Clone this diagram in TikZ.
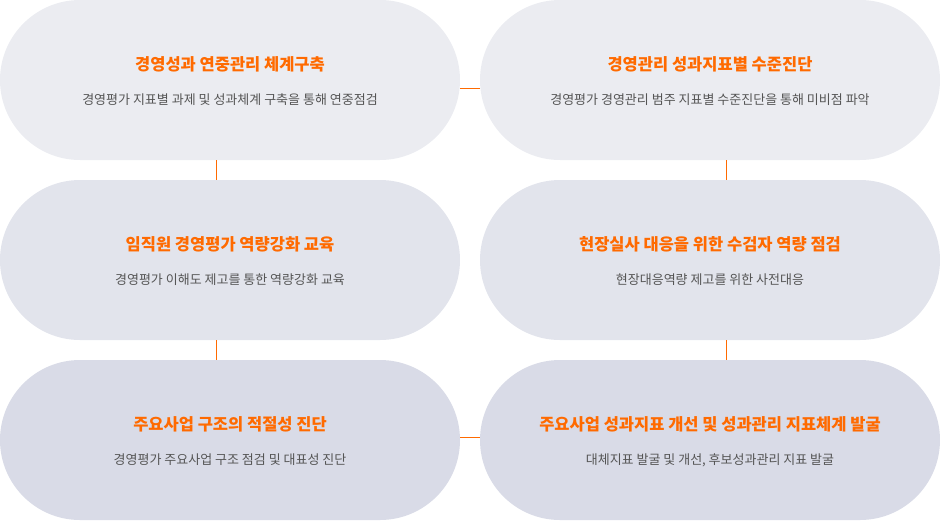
\documentclass[tikz,border=0pt]{standalone}
\usepackage{fontspec}
\newfontfamily\kr{Noto Sans CJK KR}
\definecolor{rowA}{HTML}{EBECF1}
\definecolor{rowB}{HTML}{E2E4EC}
\definecolor{rowC}{HTML}{D9DBE7}
\definecolor{orangeT}{HTML}{FF6A00}
\definecolor{grayT}{HTML}{555555}
\tikzset{
  pill/.style={rectangle, rounded corners=80pt, minimum width=460pt, minimum height=160pt, inner sep=0pt, outer sep=0pt},
  ttl/.style={font=\kr\bfseries\fontsize{16.5}{18}\selectfont, text=orangeT, inner sep=0pt},
  sub/.style={font=\kr\fontsize{13}{15}\selectfont, text=grayT, inner sep=0pt},
  link/.style={draw=orangeT, line width=1pt}
}
\begin{document}
\begin{tikzpicture}[x=1pt,y=-1pt]
\useasboundingbox (0,0) rectangle (940,520);
\node[pill, fill=rowA] (p1) at (230,80) {};
\node[pill, fill=rowA] (p2) at (710,80) {};
\node[pill, fill=rowB] (p3) at (230,260) {};
\node[pill, fill=rowB] (p4) at (710,260) {};
\node[pill, fill=rowC] (p5) at (230,440) {};
\node[pill, fill=rowC] (p6) at (710,440) {};
\node[ttl] (t1) at (230,64) {경영성과 연중관리 체계구축};
\node[sub] (s1) at (230,100) {경영평가 지표별 과제 및 성과체계 구축을 통해 연중점검};
\node[ttl] (t2) at (710,64) {경영관리 성과지표별 수준진단};
\node[sub] (s2) at (710,100) {경영평가 경영관리 범주 지표별 수준진단을 통해 미비점 파악};
\node[ttl] (t3) at (230,244) {임직원 경영평가 역량강화 교육};
\node[sub] (s3) at (230,280) {경영평가 이해도 제고를 통한 역량강화 교육};
\node[ttl] (t4) at (710,244) {현장실사 대응을 위한 수검자 역량 점검};
\node[sub] (s4) at (710,280) {현장대응역량 제고를 위한 사전대응};
\node[ttl] (t5) at (230,424) {주요사업 구조의 적절성 진단};
\node[sub] (s5) at (230,460) {경영평가 주요사업 구조 점검 및 대표성 진단};
\node[ttl] (t6) at (710,424) {주요사업 성과지표 개선 및 성과관리 지표체계 발굴};
\node[sub] (s6) at (710,460) {대체지표 발굴 및 개선, 후보성과관리 지표 발굴};
\coordinate (a1) at (460,88); \coordinate (b1) at (480,88);
\draw[link] (a1) -- (b1);
\coordinate (a2) at (216.5,160); \coordinate (b2) at (216.5,180);
\draw[link] (a2) -- (b2);
\coordinate (a3) at (726.5,160); \coordinate (b3) at (726.5,180);
\draw[link] (a3) -- (b3);
\coordinate (a4) at (216.5,340); \coordinate (b4) at (216.5,360);
\draw[link] (a4) -- (b4);
\coordinate (a5) at (726.5,340); \coordinate (b5) at (726.5,360);
\draw[link] (a5) -- (b5);
\coordinate (a6) at (460,437); \coordinate (b6) at (480,437);
\draw[link] (a6) -- (b6);
\end{tikzpicture}
\end{document}
